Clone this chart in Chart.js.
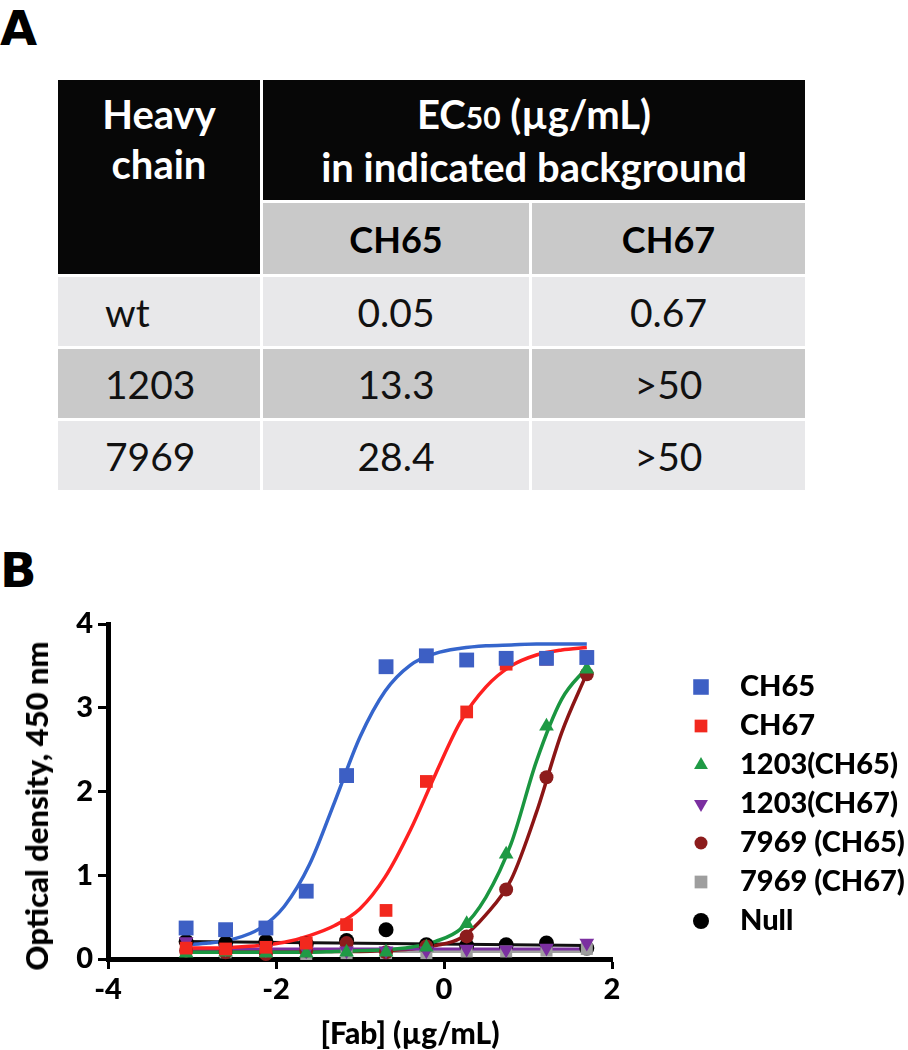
<!DOCTYPE html>
<html>
<head>
<meta charset="utf-8">
<title>EC50 table and Fab binding curves</title>
<script src="https://cdn.jsdelivr.net/npm/chart.js"></script>
<style>
  body { margin: 0; width: 908px; height: 1050px; position: relative; overflow: hidden; background: #fff; font-family: Lato, sans-serif; color: #000; }
  .panel { position: absolute; left: 0; font: bold 48px "DejaVu Sans", sans-serif; line-height: 48px; }
  #ec50 { position: absolute; left: 55px; top: 77px; width: 753px; border-collapse: separate; border-spacing: 3px; table-layout: fixed; }
  #ec50 td { padding: 0; text-align: center; vertical-align: middle; }
  #ec50 .head { background: #070707; color: #fff; font-weight: bold; font-size: 40px; line-height: 50px; }
  #ec50 .corner { vertical-align: top; padding-top: 9px; }
  #ec50 .sub { background: #c9c9c9; font-weight: bold; font-size: 36px; }
  #ec50 .row td { font-size: 39px; color: #111; }
  #ec50 .light td { background: #e8e8ea; }
  #ec50 .dark td { background: #c9c9c9; }
  #ec50 td.name { text-align: left; padding-left: 47px; }
  .small { font-size: 0.75em; }
  #chartBox { position: absolute; left: 0; top: 560px; width: 908px; height: 490px; }
  .ytitle { position: absolute; left: 36px; top: 806px; transform: translate(-50%, -50%) rotate(-90deg); font: 900 31px Lato, sans-serif; line-height: 30px; white-space: nowrap; }
  .xtitle { position: absolute; left: 410px; top: 1017px; transform: translateX(-50%); font: 900 30px Lato, sans-serif; line-height: 30px; white-space: nowrap; }
</style>
</head>
<body>
<div class="panel" style="top:4px">A</div>
<table id="ec50">
  <colgroup><col style="width:202px"><col style="width:266px"><col style="width:273px"></colgroup>
  <tbody id="ec50Body">
    <tr style="height:120px">
      <td class="head corner" rowspan="2">Heavy<br>chain</td>
      <td class="head" colspan="2">EC<span class="small">50</span> (µg/mL)<br>in indicated background</td>
    </tr>
    <tr style="height:71px">
      <td class="sub" id="bg0"></td>
      <td class="sub" id="bg1"></td>
    </tr>
  </tbody>
</table>

<div class="panel" style="top:546px">B</div>
<div id="chartBox"><canvas id="odChart" width="908" height="490"></canvas></div>
<div class="ytitle">Optical density, 450 nm</div>
<div class="xtitle">[Fab] (µg/mL)</div>

<script>
// table A
const backgrounds = ["CH65", "CH67"];
const heavyChains = ["wt", "1203", "7969"];
const ec50CH65 = ["0.05", "13.3", "28.4"];
const ec50CH67 = ["0.67", ">50", ">50"];

// panel B: log10 [Fab] and OD450 per series
const fabLog = [-3.07, -2.60, -2.12, -1.64, -1.16, -0.69, -0.21, 0.27, 0.74, 1.22, 1.70];
const odCH65 = [0.37, 0.35, 0.37, 0.81, 2.19, 3.49, 3.62, 3.57, 3.59, 3.59, 3.60];
const odCH67 = [0.13, 0.12, 0.14, 0.19, 0.41, 0.58, 2.12, 2.95, 3.52, 3.58, 3.61];
const od1203CH65 = [0.07, 0.08, 0.07, 0.07, 0.08, 0.08, 0.14, 0.42, 1.25, 2.78, 3.46];
const od1203CH67 = [0.21, 0.12, 0.11, 0.10, 0.10, 0.10, 0.10, 0.12, 0.11, 0.13, 0.19];
const od7969CH65 = [0.10, 0.08, 0.06, 0.10, 0.19, 0.08, 0.15, 0.27, 0.83, 2.17, 3.40];
const od7969CH67 = [0.10, 0.08, 0.09, 0.06, 0.07, 0.07, 0.07, 0.09, 0.09, 0.10, 0.12];
const odNull = [0.21, 0.19, 0.21, 0.18, 0.22, 0.35, 0.17, 0.16, 0.17, 0.19, 0.13];

// fitted curves
const fitX = [-3.07, -2.8, -2.5, -2.2, -1.9, -1.6, -1.3, -1.0, -0.7, -0.4, -0.1, 0.2, 0.5, 0.8, 1.1, 1.4, 1.7];
const fitCH65 = [0.17, 0.19, 0.24, 0.36, 0.63, 1.13, 1.88, 2.65, 3.20, 3.51, 3.65, 3.71, 3.74, 3.75, 3.76, 3.76, 3.76];
const fitCH67 = [0.13, 0.13, 0.14, 0.16, 0.20, 0.28, 0.40, 0.60, 0.98, 1.54, 2.21, 2.84, 3.25, 3.50, 3.63, 3.69, 3.72];
const fit1203CH65 = [0.08, 0.08, 0.08, 0.08, 0.08, 0.08, 0.09, 0.10, 0.11, 0.14, 0.21, 0.36, 0.74, 1.38, 2.36, 3.10, 3.48];
const fit7969CH65 = [0.09, 0.09, 0.09, 0.09, 0.09, 0.09, 0.09, 0.09, 0.10, 0.12, 0.16, 0.25, 0.53, 0.95, 1.75, 2.70, 3.41];
const flatX = [-3.07, 1.70];
const fit1203CH67 = [0.12, 0.12];
const fit7969CH67 = [0.09, 0.09];
const fitNull = [0.21, 0.16];

const xTicks = [-4, -2, 0, 2];
const yTicks = [0, 1, 2, 3, 4];

// build table rows
document.getElementById("bg0").textContent = backgrounds[0];
document.getElementById("bg1").textContent = backgrounds[1];
const tbody = document.getElementById("ec50Body");
heavyChains.forEach((name, i) => {
  const tr = document.createElement("tr");
  tr.className = "row " + (i % 2 === 0 ? "light" : "dark");
  tr.style.height = "69px";
  [name, ec50CH65[i], ec50CH67[i]].forEach((txt, j) => {
    const td = document.createElement("td");
    if (j === 0) td.className = "name";
    td.textContent = txt;
    tr.appendChild(td);
  });
  tbody.appendChild(tr);
});

const pairs = (xs, ys) => xs.map((x, i) => ({ x: x, y: ys[i] }));

const series = [
  { label: "CH65", y: odCH65, color: "#3d5fc4", style: "rect", r: 10.5, rot: 0, lr: 11 },
  { label: "CH67", y: odCH67, color: "#f2281e", style: "rect", r: 9, rot: 0, lr: 9 },
  { label: "1203(CH65)", y: od1203CH65, color: "#1f9a45", style: "triangle", r: 8.5, rot: 0, lr: 8 },
  { label: "1203(CH67)", y: od1203CH67, color: "#7b2fa0", style: "triangle", r: 8.5, rot: 180, lr: 8 },
  { label: "7969 (CH65)", y: od7969CH65, color: "#8c1c1c", style: "circle", r: 7, rot: 0, lr: 6.5 },
  { label: "7969 (CH67)", y: od7969CH67, color: "#9e9e9e", style: "rect", r: 8.5, rot: 0, lr: 9 },
  { label: "Null", y: odNull, color: "#000000", style: "circle", r: 7.5, rot: 0, lr: 8 }
];

const fits = [
  { x: fitX, y: fitCH65, color: "#3565cc", w: 3.5 },
  { x: fitX, y: fitCH67, color: "#ff2020", w: 3.5 },
  { x: fitX, y: fit1203CH65, color: "#1a9640", w: 3.5 },
  { x: flatX, y: fit1203CH67, color: "#7b2fa0", w: 3 },
  { x: fitX, y: fit7969CH65, color: "#8b1515", w: 3.5 },
  { x: flatX, y: fit7969CH67, color: "#a0a0a0", w: 3 },
  { x: flatX, y: fitNull, color: "#111111", w: 3 }
];

const datasets = [];
series.forEach((s, i) => {
  datasets.push({
    label: s.label,
    data: pairs(fabLog, s.y),
    showLine: false,
    pointStyle: s.style,
    pointRotation: s.rot,
    pointRadius: s.r,
    pointBorderWidth: 0,
    pointBackgroundColor: s.color,
    order: i,
    clip: false
  });
});
fits.forEach((f, i) => {
  datasets.push({
    label: series[i].label + " fit",
    data: pairs(f.x, f.y),
    showLine: true,
    pointRadius: 0,
    borderColor: f.color,
    borderWidth: f.w,
    cubicInterpolationMode: "monotone",
    order: 10 + i,
    clip: false
  });
});

// legend on the right, drawn with the same point styles
const sideLegend = {
  id: "sideLegend",
  afterDraw(chart) {
    const ctx = chart.ctx;
    ctx.save();
    ctx.font = "900 29px Lato";
    ctx.textBaseline = "middle";
    series.forEach((s, i) => {
      const y = 127 + i * 39;
      ctx.fillStyle = s.color;
      Chart.helpers.drawPoint(ctx, { pointStyle: s.style, radius: s.lr, rotation: s.rot, borderWidth: 0 }, 701, y);
      ctx.fillStyle = "#000";
      ctx.fillText(s.label, 740, y);
    });
    ctx.restore();
  }
};

const tickFont = { family: "Lato", size: 29, weight: 900 };
const axisGrid = { drawOnChartArea: false, drawTicks: true, tickLength: 10, tickWidth: 3, tickColor: "#000" };
const axisBorder = { display: true, color: "#000", width: 5 };

new Chart(document.getElementById("odChart"), {
  type: "scatter",
  data: { datasets: datasets },
  options: {
    responsive: false,
    devicePixelRatio: 1,
    animation: false,
    events: [],
    layout: { padding: { left: 0, top: 64, right: 296, bottom: 0 } },
    plugins: { legend: { display: false }, tooltip: { enabled: false } },
    scales: {
      x: {
        type: "linear",
        min: xTicks[0],
        max: xTicks[xTicks.length - 1],
        afterBuildTicks: (scale) => { scale.ticks = xTicks.map((v) => ({ value: v })); },
        afterFit: (scale) => { scale.height = 91; },
        ticks: { font: tickFont, color: "#000", padding: 3, maxRotation: 0 },
        grid: axisGrid,
        border: axisBorder
      },
      y: {
        type: "linear",
        min: yTicks[0],
        max: yTicks[yTicks.length - 1],
        afterBuildTicks: (scale) => { scale.ticks = yTicks.map((v) => ({ value: v })); },
        afterFit: (scale) => { scale.width = 108; },
        ticks: { font: tickFont, color: "#000", padding: 5 },
        grid: axisGrid,
        border: axisBorder
      }
    }
  },
  plugins: [sideLegend]
});
</script>
</body>
</html>
